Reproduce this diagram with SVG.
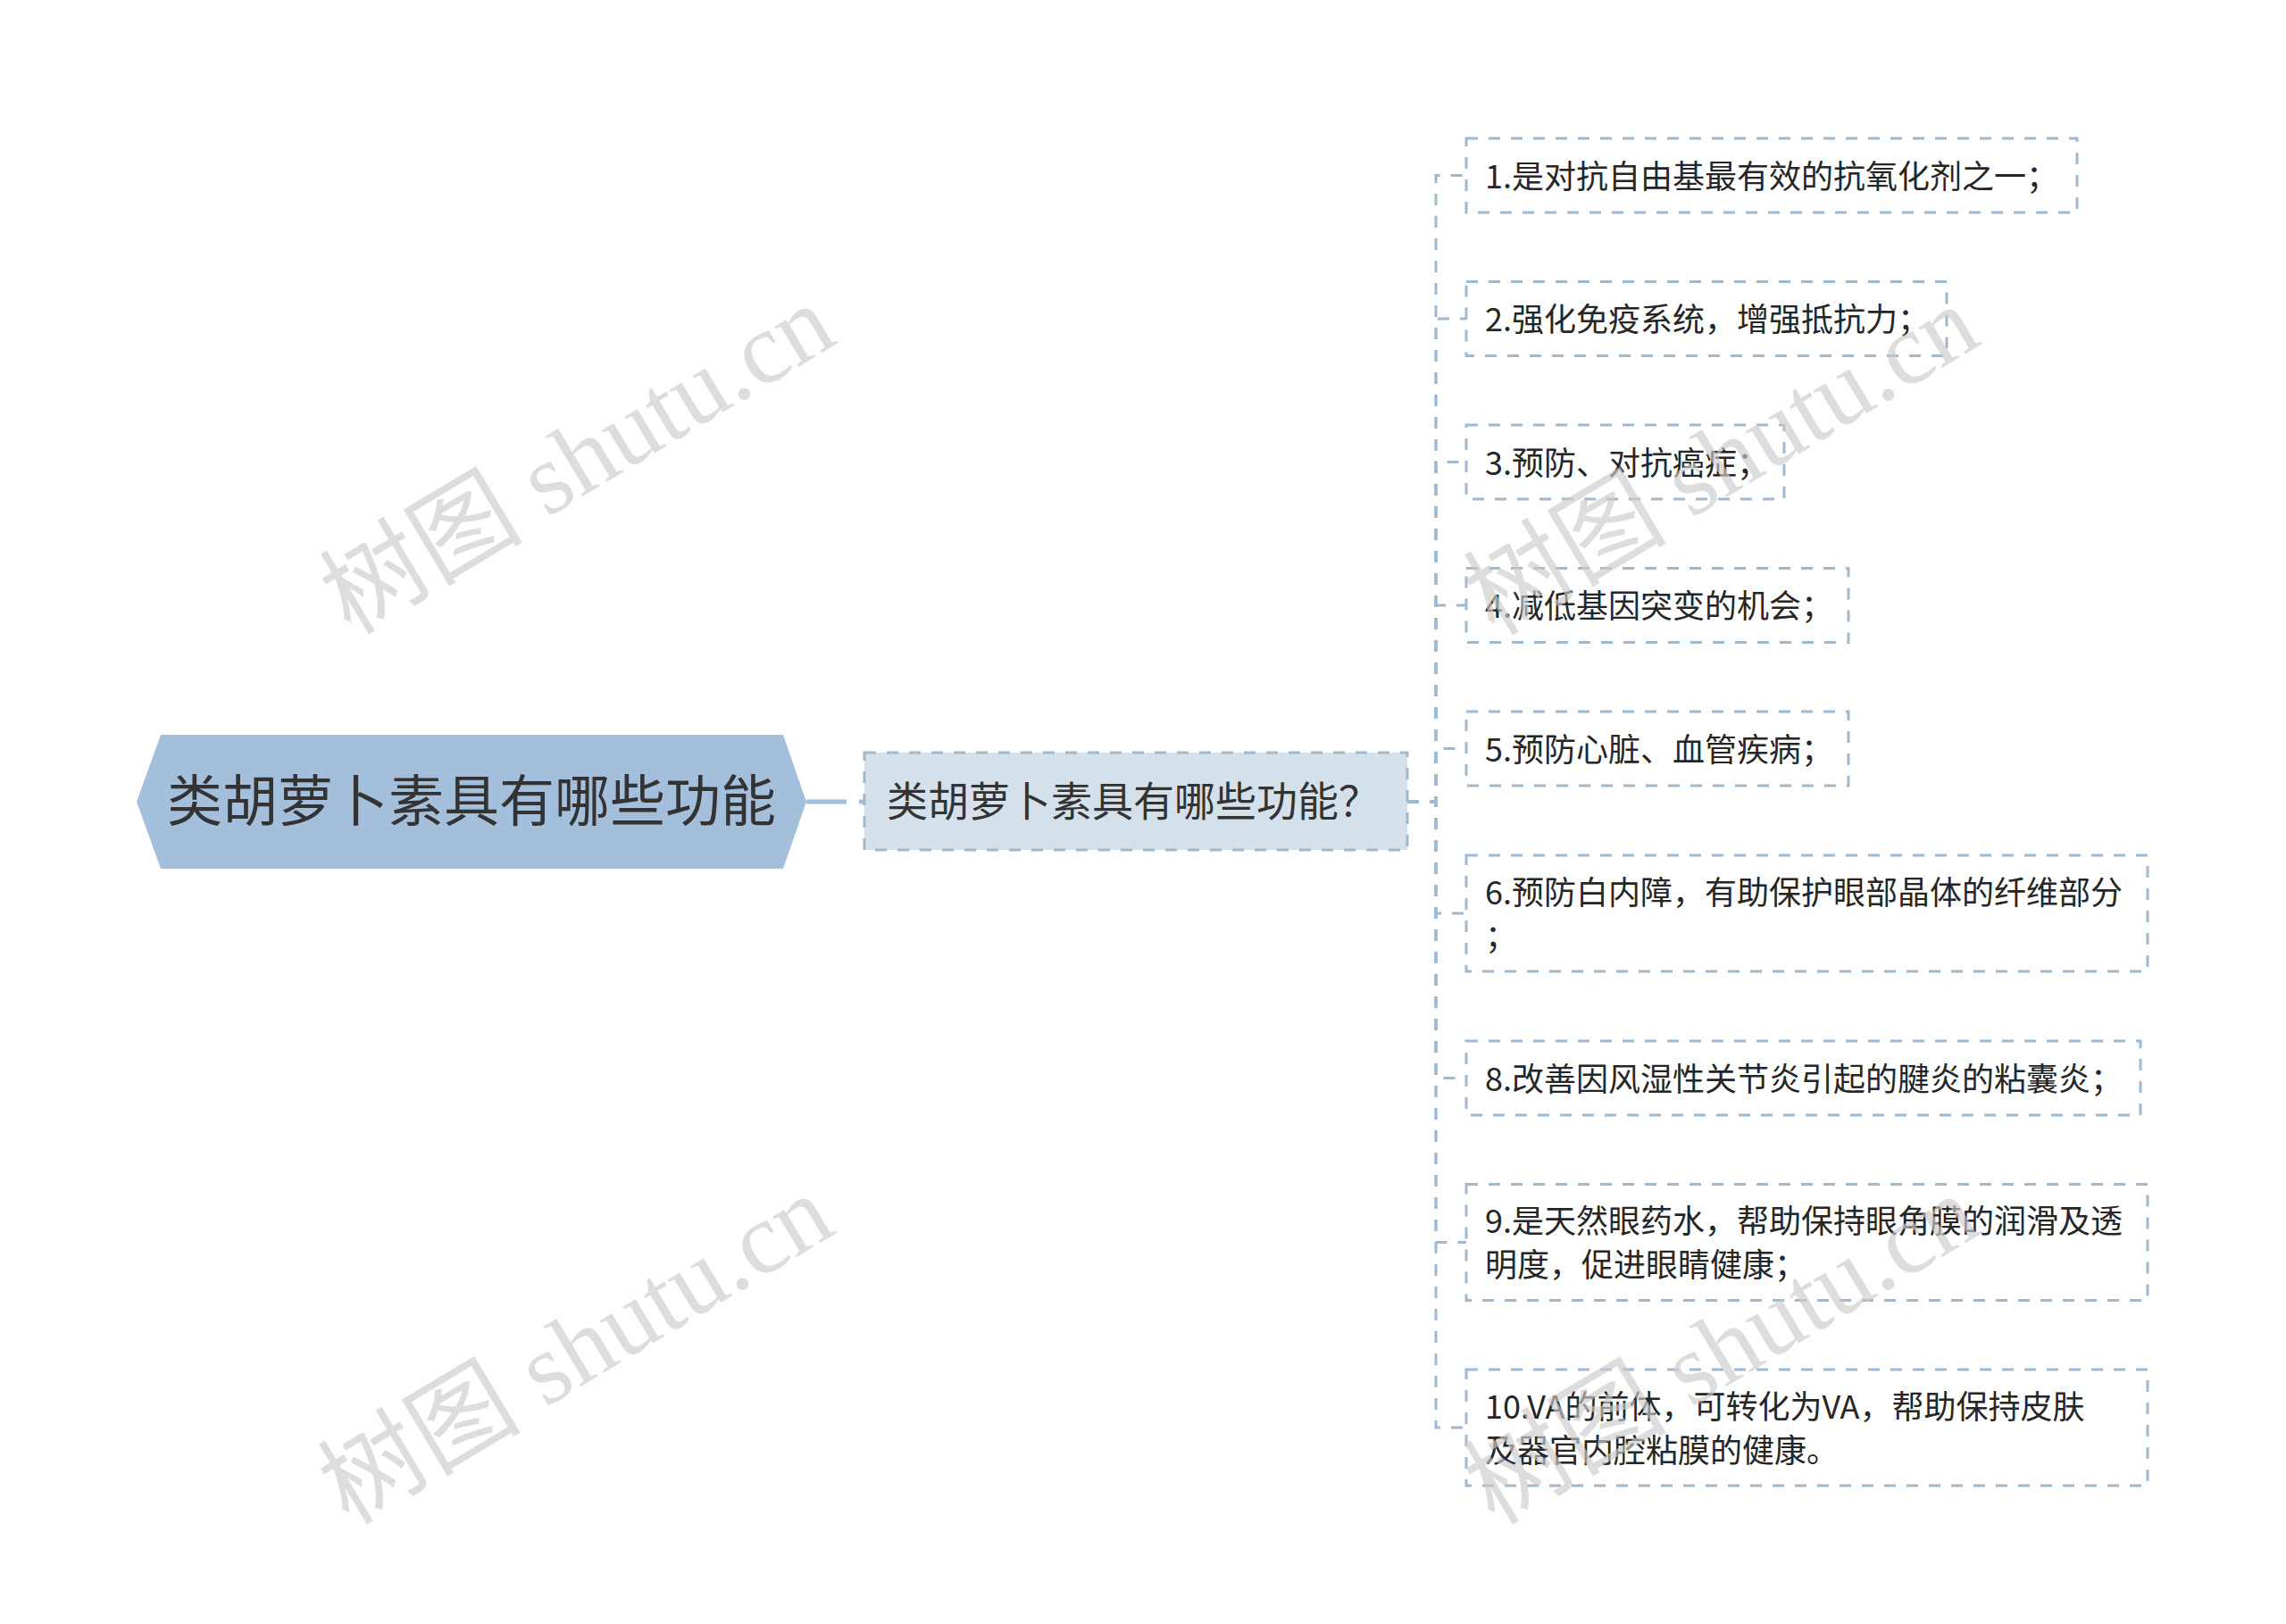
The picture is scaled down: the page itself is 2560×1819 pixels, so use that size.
<svg xmlns="http://www.w3.org/2000/svg" width="2560" height="1819" viewBox="0 0 2560 1819">
<style>
.conn{fill:none;stroke:#9fb9d0;stroke-width:3;stroke-dasharray:13 12}
.box{fill:#ffffff;stroke:#9fb9d0;stroke-width:3;stroke-dasharray:13 12}
.t{font-family:"Noto Sans CJK SC","Noto Sans",sans-serif;font-size:36px;fill:#262626}
.wm{font-family:"Liberation Serif","Noto Sans CJK SC",serif;font-size:114px;fill:#cccccc;opacity:0.65}
</style>
<rect width="2560" height="1819" fill="#ffffff"/>
<g id="connectors">
<path d="M903 898 H968" fill="none" stroke="#a3bfdb" stroke-width="5" stroke-dasharray="45 14 6 100"/>
<path class="conn" d="M1576 898 H1608 V196.5 H1642"/>
<path class="conn" d="M1576 898 H1608 V357 H1642"/>
<path class="conn" d="M1576 898 H1608 V517.5 H1642"/>
<path class="conn" d="M1576 898 H1608 V678 H1642"/>
<path class="conn" d="M1576 898 H1608 V838.5 H1642"/>
<path class="conn" d="M1576 898 H1608 V1023 H1642"/>
<path class="conn" d="M1576 898 H1608 V1207.5 H1642"/>
<path class="conn" d="M1576 898 H1608 V1391.5 H1642"/>
<path class="conn" d="M1576 898 H1608 V1599 H1642"/>
</g>
<g id="root">
<polygon points="153,898 180,823 877,823 903,898 877,973 180,973" fill="#a3bfdb"/>
<text x="528" y="920" text-anchor="middle" font-family="Noto Sans CJK SC, sans-serif" font-size="62" fill="#333333">类胡萝卜素具有哪些功能</text>
</g>
<g id="sub">
<rect x="968" y="843" width="608" height="109" fill="#d4e0ea" stroke="#9fb9d0" stroke-width="3" stroke-dasharray="13 12"/>
<text x="993" y="914" font-family="Noto Sans CJK SC, sans-serif" font-size="46" fill="#333333">类胡萝卜素具有哪些功能？</text>
</g>
<g id="n1"><rect class="box" x="1642" y="155" width="684" height="83"/><text class="t" x="1663" y="210.5">1.是对抗自由基最有效的抗氧化剂之一；</text></g>
<g id="n2"><rect class="box" x="1642" y="315.5" width="538" height="83"/><text class="t" x="1663" y="371">2.强化免疫系统，增强抵抗力；</text></g>
<g id="n3"><rect class="box" x="1642" y="476" width="356" height="83"/><text class="t" x="1663" y="531.5">3.预防、对抗癌症；</text></g>
<g id="n4"><rect class="box" x="1642" y="636.5" width="428" height="83"/><text class="t" x="1663" y="692">4.减低基因突变的机会；</text></g>
<g id="n5"><rect class="box" x="1642" y="797" width="428" height="83"/><text class="t" x="1663" y="852.5">5.预防心脏、血管疾病；</text></g>
<g id="n6"><rect class="box" x="1642" y="958" width="763" height="130"/><text class="t" x="1663" y="1012.5">6.预防白内障，有助保护眼部晶体的纤维部分</text><text class="t" x="1663" y="1061.5">；</text></g>
<g id="n8"><rect class="box" x="1642" y="1166" width="755" height="83"/><text class="t" x="1663" y="1221.5">8.改善因风湿性关节炎引起的腱炎的粘囊炎；</text></g>
<g id="n9"><rect class="box" x="1642" y="1326.5" width="763" height="130"/><text class="t" x="1663" y="1381">9.是天然眼药水，帮助保持眼角膜的润滑及透</text><text class="t" x="1663" y="1430">明度，促进眼睛健康；</text></g>
<g id="n10"><rect class="box" x="1642" y="1534" width="763" height="130"/><text class="t" x="1663" y="1588.5">10.VA的前体，可转化为VA，帮助保持皮肤</text><text class="t" x="1663" y="1637.5">及器官内腔粘膜的健康。</text></g>
<g id="watermarks">
<text class="wm" text-anchor="middle" transform="translate(647,515) rotate(-31)" y="38">树图 shutu.cn</text>
<text class="wm" text-anchor="middle" transform="translate(645,1512) rotate(-31)" y="38">树图 shutu.cn</text>
<text class="wm" text-anchor="middle" transform="translate(1928,516) rotate(-31)" y="38">树图 shutu.cn</text>
<text class="wm" text-anchor="middle" transform="translate(1928,1512) rotate(-31)" y="38">树图 shutu.cn</text>
</g>
</svg>
